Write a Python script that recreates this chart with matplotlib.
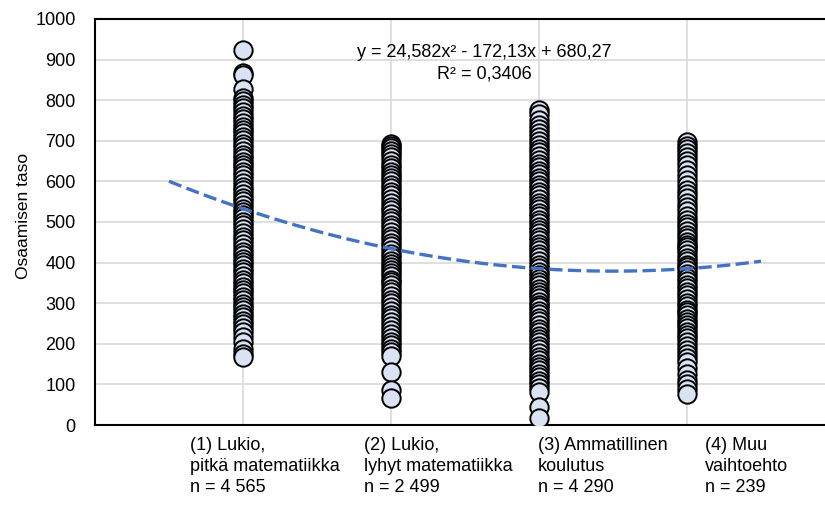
import numpy as np
import matplotlib
matplotlib.use("Agg")
import matplotlib.pyplot as plt

# fonts (no narrow Arial available, so a slightly smaller regular sans)
plt.rcParams["font.family"] = ["Liberation Sans", "DejaVu Sans"]
font_size = 13

# category labels
categories = ["(1) Lukio,\npitkä matematiikka\nn = 4 565",
              "(2) Lukio,\nlyhyt matematiikka\nn = 2 499",
              "(3) Ammatillinen\nkoulutus\nn = 4 290",
              "(4) Muu\nvaihtoehto\nn = 239"]
group_x = [1, 2, 3, 4]

# osaamisen taso (visible markers only)
lukio_pitka = [924, 868, 862, 827, 806, 797, 789, 780, 771, 762, 753, 744, 735, 727,
               718, 710, 702, 693, 684, 675, 666, 657, 648, 640, 633, 624, 615, 606,
               596, 587, 578, 569, 560, 551, 542, 533, 524, 517, 510, 501, 492, 483,
               473, 464, 455, 446, 436, 426, 418, 410, 402, 394, 385, 376, 367, 357,
               349, 341, 333, 325, 316, 307, 298, 290, 283, 274, 266, 257, 248, 238,
               229, 217, 204, 186, 176, 167]
lukio_lyhyt = [693, 688, 683, 676, 668, 660, 651, 640, 632, 624, 616, 608, 600, 592,
               584, 575, 566, 557, 547, 538, 529, 520, 511, 502, 493, 484, 475, 466,
               457, 448, 440, 431, 422, 413, 404, 396, 389, 382, 374, 366, 358, 351,
               345, 336, 327, 318, 309, 300, 291, 282, 272, 263, 254, 244, 234, 224,
               214, 205, 196, 188, 180, 170, 131, 86, 67]
ammatillinen = [776, 766, 751, 740, 730, 720, 709, 699, 690, 681, 672, 663, 653, 644,
                635, 626, 617, 608, 600, 591, 583, 574, 566, 557, 548, 539, 531, 522,
                514, 505, 497, 488, 480, 472, 463, 455, 447, 439, 431, 422, 413, 404,
                395, 386, 378, 369, 360, 352, 344, 336, 328, 320, 312, 304, 296, 291,
                282, 273, 264, 255, 246, 237, 228, 220, 212, 204, 195, 186, 177, 168,
                159, 150, 143, 135, 126, 118, 109, 100, 91, 82, 44, 17]
muu = [697, 688, 679, 670, 660, 650, 640, 628, 616, 603, 591, 580, 569, 558, 547,
       536, 526, 515, 505, 496, 487, 478, 469, 460, 451, 443, 439, 430, 421, 412,
       403, 395, 390, 381, 372, 363, 354, 346, 337, 328, 319, 310, 301, 292, 284,
       278, 270, 262, 254, 246, 238, 230, 222, 214, 204, 194, 184, 175, 165, 155,
       140, 125, 111, 100, 88, 76]
groups = [lukio_pitka, lukio_lyhyt, ammatillinen, muu]

# trendline as given in the chart
trend_a, trend_b, trend_c = 24.582, -172.13, 680.27
trend_label = "y = 24,582x² - 172,13x + 680,27\nR² = 0,3406"

fig = plt.figure(figsize=(8.25, 5.05), dpi=100)
ax = fig.add_axes([95 / 825, 80 / 505, 740 / 825, 406 / 505])

for gx, vals in zip(group_x, groups):
    ax.scatter(np.full(len(vals), gx), vals, s=175, facecolor="#DAE3F3",
               edgecolor="black", linewidths=1.4, zorder=3)

tx = np.linspace(0.5, 4.5, 200)
ty = trend_a * tx**2 + trend_b * tx + trend_c
ax.plot(tx, ty, color="#4472C4", lw=2.4, dashes=(4.0, 1.6), zorder=4)

ax.set_xlim(0, 5)
ax.set_ylim(0, 1000)
ax.set_yticks(np.arange(0, 1001, 100))
ax.set_xticks(group_x)
ax.set_xticklabels([])
ax.tick_params(axis="both", length=0)
ax.tick_params(axis="y", labelsize=font_size, pad=14)
ax.grid(True, color="#D9D9D9", lw=1.2, zorder=0)
ax.set_axisbelow(True)
for s in ["left", "bottom", "top"]:
    ax.spines[s].set_linewidth(1.5)
ax.spines["right"].set_visible(False)

ax.set_ylabel("Osaamisen taso", fontsize=12.5)
ax.yaxis.set_label_coords(-0.086, 0.515)

# category labels under the axis
label_x = [0.64, 1.82, 2.99, 4.12]
for lx, txt in zip(label_x, categories):
    ax.text(lx, -0.03, txt, transform=ax.get_xaxis_transform(), ha="left",
            va="top", fontsize=font_size, linespacing=1.3)

ax.text(2.63, 0.938, trend_label, transform=ax.get_xaxis_transform(),
        ha="center", va="top", fontsize=font_size, linespacing=1.35)

fig.savefig("out.png", dpi=100)
